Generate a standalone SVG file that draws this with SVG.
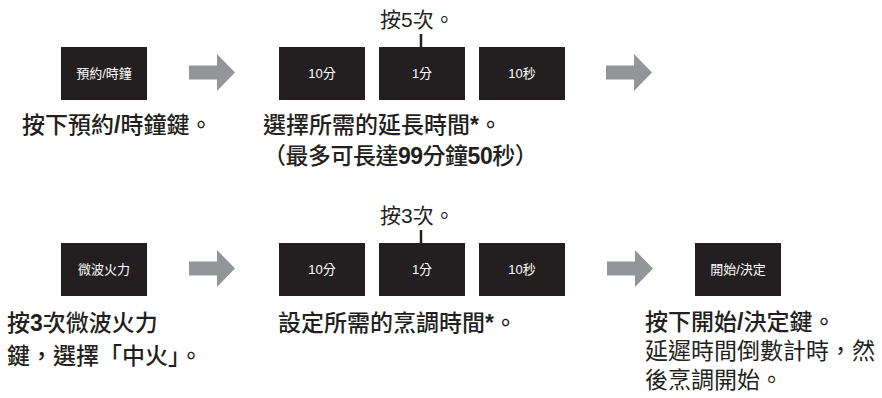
<svg xmlns="http://www.w3.org/2000/svg" width="882" height="398" viewBox="0 0 882 398">
<style>
.key{fill:#231f20}
.kt{fill:#ffffff;font-family:"Liberation Sans","Noto Sans CJK TC",sans-serif;font-size:13px;text-anchor:middle}
.t{fill:#231f20;font-family:"Liberation Sans","Noto Sans CJK TC",sans-serif;font-size:23px}
.b{font-weight:500}
.n{font-weight:normal}
.d{font-weight:bold}
.cnt{fill:#231f20;font-family:"Liberation Sans","Noto Sans CJK TC",sans-serif;font-size:21px}
.arrow{fill:#939598}
.tick{stroke:#231f20;stroke-width:2.5}
</style>
<defs>
<path id="arr" d="M0,11.5 H28 V0 L46,18.5 L28,37 V25.5 H0 Z"/>
</defs>
<rect width="882" height="398" fill="#ffffff"/>
<g id="connectors">
<use href="#arr" class="arrow" x="189" y="54"/>
<use href="#arr" class="arrow" x="606" y="54"/>
<use href="#arr" class="arrow" x="189" y="250"/>
<use href="#arr" class="arrow" x="607" y="250"/>
<line class="tick" x1="421" y1="34" x2="421" y2="47"/>
<line class="tick" x1="421" y1="230" x2="421" y2="243"/>
</g>
<g id="step1-key">
<rect class="key" x="61" y="47" width="86" height="53"/>
<text class="kt" x="104" y="78">預約/時鐘</text>
</g>
<g id="step1-text">
<text class="t b" x="22" y="133">按下預約<tspan class="d">/</tspan>時鐘鍵。</text>
</g>
<g id="step2-key10min">
<rect class="key" x="279" y="47" width="86" height="53"/>
<text class="kt" x="322" y="78">10分</text>
</g>
<g id="step2-key1min">
<rect class="key" x="379" y="47" width="86" height="53"/>
<text class="kt" x="422" y="78">1分</text>
</g>
<g id="step2-key10sec">
<rect class="key" x="479" y="47" width="86" height="53"/>
<text class="kt" x="522" y="78">10秒</text>
</g>
<g id="step2-count">
<text class="cnt" x="380" y="27">按5次。</text>
</g>
<g id="step2-text">
<text class="t b" x="263" y="133">選擇所需的延長時間<tspan class="d">*</tspan>。</text>
<text class="t b" x="263" y="164" letter-spacing="-0.5">（最多可長達<tspan class="d">99</tspan>分鐘<tspan class="d">50</tspan>秒）</text>
</g>
<g id="step3-key">
<rect class="key" x="61" y="243" width="86" height="53"/>
<text class="kt" x="104" y="274">微波火力</text>
</g>
<g id="step3-text">
<text class="t b" x="7" y="331">按<tspan class="d">3</tspan>次微波火力</text>
<text class="t b" x="7" y="364">鍵，選擇「中火」。</text>
</g>
<g id="step4-key10min">
<rect class="key" x="279" y="243" width="86" height="53"/>
<text class="kt" x="322" y="274">10分</text>
</g>
<g id="step4-key1min">
<rect class="key" x="379" y="243" width="86" height="53"/>
<text class="kt" x="422" y="274">1分</text>
</g>
<g id="step4-key10sec">
<rect class="key" x="479" y="243" width="86" height="53"/>
<text class="kt" x="522" y="274">10秒</text>
</g>
<g id="step4-count">
<text class="cnt" x="380" y="223">按3次。</text>
</g>
<g id="step4-text">
<text class="t b" x="278" y="331">設定所需的烹調時間<tspan class="d">*</tspan>。</text>
</g>
<g id="step5-key">
<rect class="key" x="695" y="243" width="86" height="53"/>
<text class="kt" x="738" y="274">開始/決定</text>
</g>
<g id="step5-text">
<text class="t b" x="645" y="330">按下開始<tspan class="d">/</tspan>決定鍵。</text>
<text class="t n" x="645" y="359">延遲時間倒數計時，然</text>
<text class="t n" x="645" y="388">後烹調開始。</text>
</g>
</svg>
